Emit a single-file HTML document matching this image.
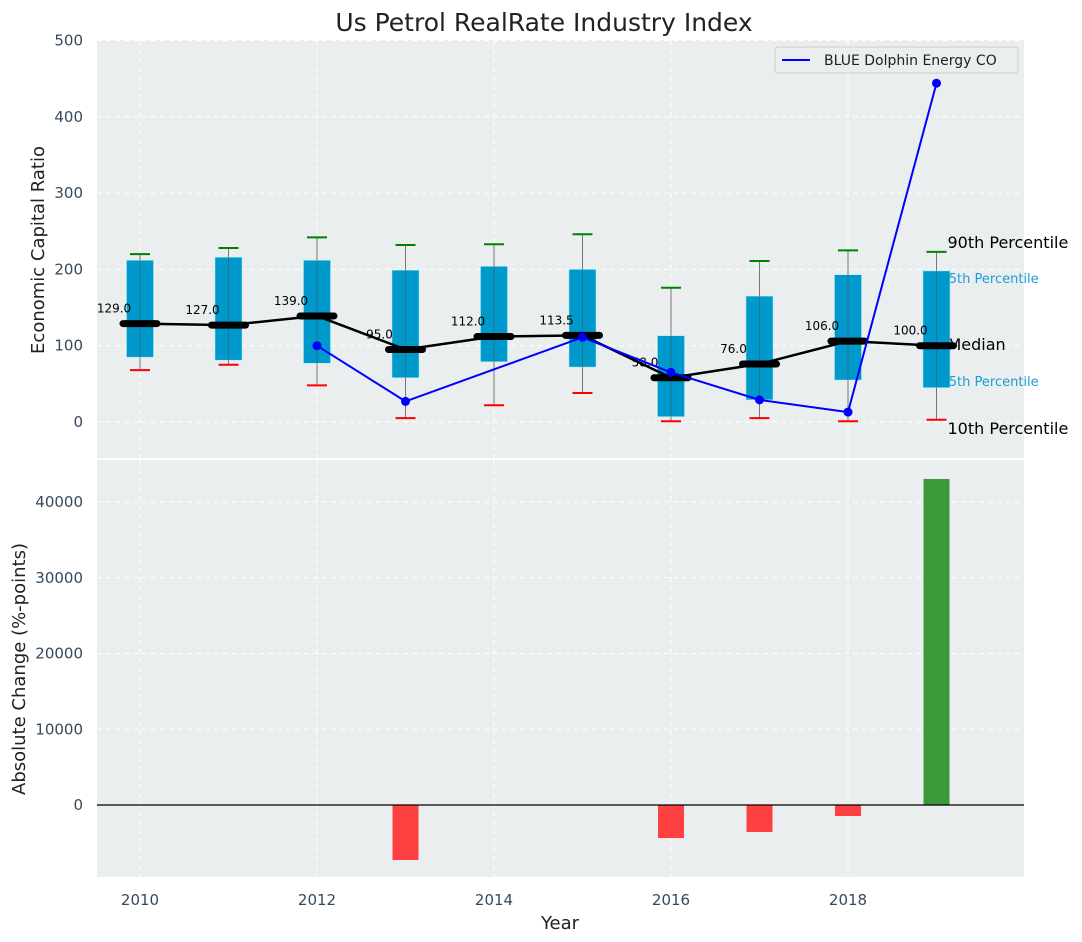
<!DOCTYPE html>
<html><head><meta charset="utf-8"><style>
body{margin:0;background:#fff}
svg{display:block;font-family:"DejaVu Sans","Liberation Sans",sans-serif}
</style></head><body>
<svg id="chart" width="1082" height="942" xmlns="http://www.w3.org/2000/svg">
<text x="544" y="31" font-size="25" fill="#222" text-anchor="middle">Us Petrol RealRate Industry Index</text>
<rect x="97" y="40" width="927" height="418" fill="#eaeeef"/>
<rect x="97" y="460" width="927" height="417" fill="#eaeeef"/>
<g id="topg"></g><g id="botg"></g>
<text x="44" y="250" font-size="18" fill="#222" text-anchor="middle" transform="rotate(-90 44 250)">Economic Capital Ratio</text>
<text x="25" y="669" font-size="18" fill="#222" text-anchor="middle" transform="rotate(-90 25 669)">Absolute Change (%-points)</text>
<text x="560" y="929" font-size="18" fill="#222" text-anchor="middle">Year</text>
<g>
<rect x="775" y="47" width="243" height="26" fill="#eaeeef" stroke="#ccc" rx="3"/>
<line x1="782" y1="60" x2="810" y2="60" stroke="#0000ff" stroke-width="2"/>
<text x="824" y="65" font-size="14" fill="#222">BLUE Dolphin Energy CO</text>
</g>
</svg>
<script>
const years=[2010,2011,2012,2013,2014,2015,2016,2017,2018,2019];
const p90=[220,228,242,232,233,246,176,211,225,223];
const p75=[212,216,212,199,204,200,113,165,193,198];
const median=[129,127,139,95,112,113.5,58,76,106,100];
const p25=[85,81,77,58,79,72,7,29,55,45];
const p10=[68,75,48,5,22,38,1,5,1,3];
const blueYears=[2012,2013,2015,2016,2017,2018,2019];
const blueVals=[100,27,111,65,29,13,444];
const changeYears=[2013,2016,2017,2018,2019];
const changeVals=[-7260,-4360,-3560,-1450,43040];
const topTicks=[0,100,200,300,400,500];
const botTicks=[0,10000,20000,30000,40000];
const xTicks=[2010,2012,2014,2016,2018];
const NS="http://www.w3.org/2000/svg";
const X=v=>140+(v-2010)*88.5;
const Y1=v=>422-v*0.763;
const Y2=v=>805-v*0.007575;
function mk(p,t,a){const e=document.createElementNS(NS,t);for(const k in a)e.setAttribute(k,a[k]);p.appendChild(e);return e;}
const gTop=document.getElementById('topg'),gBot=document.getElementById('botg');
xTicks.forEach(t=>{
 let g=mk(gTop,'line',{x1:X(t),x2:X(t),y1:40,y2:458,stroke:'#fff','stroke-dasharray':'5,4','stroke-width':1});
 
 
 g=mk(gBot,'line',{x1:X(t),x2:X(t),y1:460,y2:877,stroke:'#fff','stroke-dasharray':'5,4','stroke-width':1});
 
 
 const l=mk(gBot,'text',{x:X(t),y:905,'font-size':15,fill:'#34495e','text-anchor':'middle'});l.textContent=t;
 
 
});
topTicks.forEach(t=>{
 const g=mk(gTop,'line',{x1:97,x2:1024,y1:Y1(t),y2:Y1(t),stroke:'#fff','stroke-dasharray':'5,4','stroke-width':1});
 
 
 const l=mk(gTop,'text',{x:83,y:Y1(t)+5,'font-size':15,fill:'#34495e','text-anchor':'end'});l.textContent=t;
 
 
});
botTicks.forEach(t=>{
 const g=mk(gBot,'line',{x1:97,x2:1024,y1:Y2(t),y2:Y2(t),stroke:'#fff','stroke-dasharray':'5,4','stroke-width':1});
 
 
 const l=mk(gBot,'text',{x:83,y:Y2(t)+5,'font-size':15,fill:'#34495e','text-anchor':'end'});l.textContent=t;
 
 
});
const last=years.length-1, lx=X(years[last])+11;
[['90th Percentile',p90[last]+13,16,'#000',0],['75th Percentile',p75[last]-9,13,'#1a9ed0',-7],['Median',median[last]+2,16,'#000',0],['25th Percentile',p25[last]+9,13,'#1a9ed0',-7],['10th Percentile',p10[last]-11,16,'#000',0]].forEach(d=>{
 const t=mk(gTop,'text',{x:lx+d[4],y:Y1(d[1])+(d[2]==13?5:6),'font-size':d[2],fill:d[3]});t.textContent=d[0];
 
 
});
years.forEach((y,i)=>{
 const x=X(y);
 let e=mk(gTop,'line',{x1:x,x2:x,y1:Y1(p90[i]),y2:Y1(p10[i]),stroke:'#777','stroke-width':1});
 
 
 e=mk(gTop,'rect',{x:x-13.5,y:Y1(p75[i]),width:27,height:Y1(p25[i])-Y1(p75[i]),fill:'#0099cc',stroke:'#aee','stroke-width':0.5});
 
 
 mk(gTop,'line',{x1:x,x2:x,y1:Y1(p75[i]),y2:Y1(p25[i]),stroke:'#555','stroke-width':1,opacity:0.6});
 e=mk(gTop,'line',{x1:x-10,x2:x+10,y1:Y1(p90[i]),y2:Y1(p90[i]),stroke:'green','stroke-width':2});
 
 
 e=mk(gTop,'line',{x1:x-10,x2:x+10,y1:Y1(p10[i]),y2:Y1(p10[i]),stroke:'red','stroke-width':2});
 
 
});
let pl=mk(gTop,'polyline',{points:years.map((y,i)=>X(y)+','+Y1(median[i])).join(' '),fill:'none',stroke:'#000','stroke-width':2.5});


years.forEach((y,i)=>{
 const e=mk(gTop,'line',{x1:X(y)-17,x2:X(y)+17,y1:Y1(median[i]),y2:Y1(median[i]),stroke:'#000','stroke-width':7,'stroke-linecap':'round'});
 
 
 const t=mk(gTop,'text',{x:X(y)-26,y:Y1(median[i])-11,'font-size':12,fill:'#000','text-anchor':'middle'});t.textContent=median[i].toFixed(1);
 
 
});
pl=mk(gTop,'polyline',{points:blueYears.map((y,i)=>X(y)+','+Y1(blueVals[i])).join(' '),fill:'none',stroke:'#0000ff','stroke-width':2});


blueYears.forEach((y,i)=>{
 const c=mk(gTop,'circle',{cx:X(y),cy:Y1(blueVals[i]),r:4.5,fill:'#0000ff'});
 
 
});
changeYears.forEach((y,i)=>{
 const v=changeVals[i];
 const r=mk(gBot,'rect',{x:X(y)-13,y:Math.min(Y2(v),Y2(0)),width:26,height:Math.abs(Y2(v)-Y2(0)),fill:v>=0?'#3a9a3a':'#ff4040'});
 
 
});
const z=mk(gBot,'line',{x1:97,x2:1024,y1:Y2(0),y2:Y2(0),stroke:'#000','stroke-width':1.2});


</script>
</body></html>
